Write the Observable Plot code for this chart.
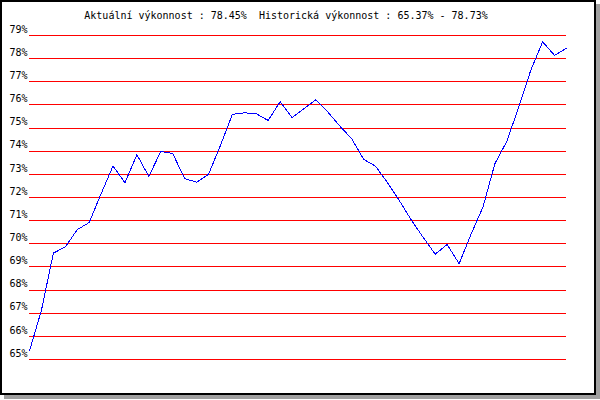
<!DOCTYPE html>
<html>
<head>
<meta charset="utf-8">
<script src="https://cdn.jsdelivr.net/npm/d3@7"></script>
<script src="https://cdn.jsdelivr.net/npm/@observablehq/plot@0.6"></script>
<style>
  body { margin: 0; background: #fff; }
  #wrap { position: relative; width: 600px; height: 400px; }
  #frame { position: absolute; left: 0; top: 0; width: 596px; height: 395px; box-sizing: border-box;
           border: 2px solid #000; box-shadow: 4px 4px 0 #a0a0a0; background: #fff; }
  #chart { position: absolute; left: 0; top: 0; }
  svg text { white-space: pre; }
</style>
</head>
<body>
<div id="wrap"><div id="frame"></div><div id="chart"></div></div>
<script>
const currentPerf = 78.45;
const histMin = 65.37;
const histMax = 78.73;

// performance values (%) per period
const performance = [
  65.37, 67.13, 69.60, 69.86, 70.61, 70.92, 72.16, 73.36, 72.64, 73.85,
  72.91, 73.99, 73.90, 72.82, 72.66, 73.00, 74.25, 75.59, 75.66, 75.62,
  75.33, 76.14, 75.45, 75.84, 76.23, 75.69, 75.09, 74.54, 73.65, 73.35,
  72.64, 71.86, 71.02, 70.27, 69.55, 69.97, 69.14, 70.41, 71.59, 73.46,
  74.43, 75.91, 77.49, 78.73, 78.14, 78.45
];

const yTicks = [65, 66, 67, 68, 69, 70, 71, 72, 73, 74, 75, 76, 77, 78, 79];

const titleText = `Aktuální výkonnost : ${currentPerf.toFixed(2)}%  Historická výkonnost : ${histMin.toFixed(2)}% - ${histMax.toFixed(2)}%`;

const data = performance.map((v, i) => ({i, v}));

const chart = Plot.plot({
  width: 600,
  height: 400,
  marginTop: 35,
  marginBottom: 41,
  marginLeft: 29,
  marginRight: 34,
  style: {background: "transparent", fontFamily: "'DejaVu Sans Mono', monospace", fontSize: "10px", color: "#000"},
  x: {domain: [0, performance.length - 1], axis: null},
  y: {domain: [65, 79], axis: null},
  marks: [
    Plot.ruleY(yTicks, {stroke: "#ff0000", strokeWidth: 1, shapeRendering: "crispEdges"}),
    Plot.axisY(yTicks, {tickSize: 0, tickPadding: 2, dy: -6, label: null, tickFormat: d => d + "%", fontSize: 10, fill: "#000"}),
    Plot.line(data, {x: "i", y: "v", stroke: "#0000ff", strokeWidth: 1, shapeRendering: "crispEdges"}),
    Plot.text([titleText], {frameAnchor: "top", dy: -24, dx: -12, text: d => d, fontSize: 10, fill: "#000"})
  ]
});
document.getElementById("chart").appendChild(chart);
</script>
</body>
</html>
